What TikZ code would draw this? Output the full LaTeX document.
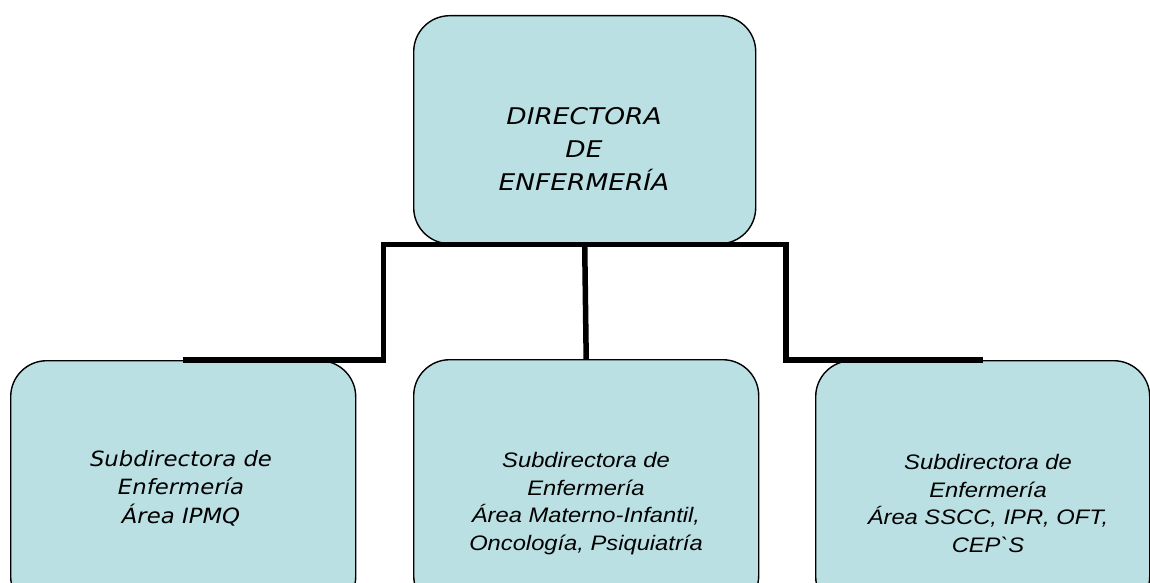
\documentclass[tikz,border=0pt]{standalone}
\usepackage{fontspec}
\newfontfamily\vfont[FakeStretch=1.15]{DejaVu Sans}
\newfontfamily\vfontb[FakeStretch=1.085]{DejaVu Sans}
\newfontfamily\afont[FakeStretch=1.13]{Liberation Sans}
\definecolor{boxfill}{HTML}{BBE0E3}
\begin{document}
\begin{tikzpicture}[x=1pt,y=-1pt,
  box/.style={draw=black, line width=1.4pt, fill=boxfill, rounded corners=36pt,
    inner sep=0pt, anchor=north west},
  conn/.style={draw=black, line width=5.5pt, line join=miter},
  toptext/.style={font=\vfont\itshape\fontsize{23}{33}\selectfont, align=center, inner sep=0pt},
  lefttext/.style={font=\vfontb\itshape\fontsize{21}{28.5}\selectfont, align=center, inner sep=0pt},
  subtext/.style={font=\afont\itshape\fontsize{21}{27.5}\selectfont, align=center, inner sep=0pt}]
\useasboundingbox (0,0) rectangle (1150,583);
\clip (0,0) rectangle (1150,583);
% boxes
\node[box, minimum width=342pt, minimum height=228pt] (top) at (413,15) {};
\node[box, minimum width=345pt, minimum height=252pt] (left) at (10,360) {};
\node[box, minimum width=345pt, minimum height=252pt] (mid) at (413,359) {};
\node[box, minimum width=334pt, minimum height=252pt] (right) at (815,360) {};
% connectors
\coordinate (kL) at (383.5,300);
\coordinate (kR) at (786,300);
\draw[conn] (top.south) -| (kL) |- (left.north);
\draw[conn] (top.south) -- (mid.north);
\draw[conn] (top.south) -| (kR) |- (right.north);
% texts
\node[toptext] (topT) at (584,149) {DIRECTORA\\DE\\ENFERMERÍA};
\node[lefttext] (leftT) at (181,488) {Subdirectora de\\Enfermería\\Área IPMQ};
\node[subtext] (midT) at (586,503.5) {Subdirectora de\\Enfermería\\Área Materno-Infantil,\\Oncología, Psiquiatría};
\node[subtext] (rightT) at (988,503.5) {Subdirectora de\\Enfermería\\Área SSCC, IPR, OFT,\\CEP`S};
\end{tikzpicture}
\end{document}
